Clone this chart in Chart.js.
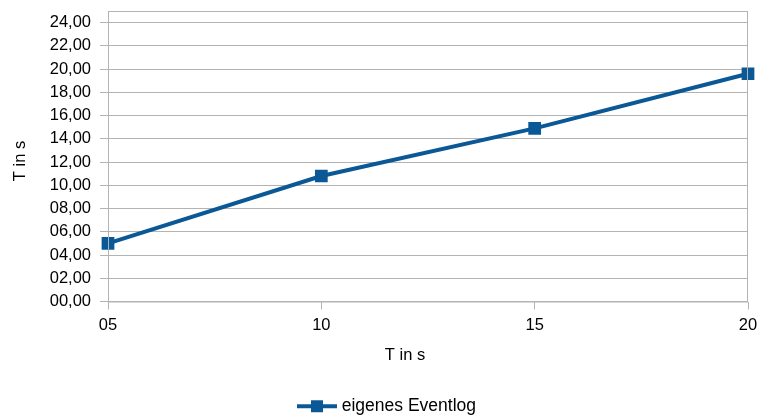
<!DOCTYPE html>
<html>
<head>
<meta charset="utf-8">
<script src="https://cdn.jsdelivr.net/npm/chart.js@4/dist/chart.umd.min.js"></script>
<style>
  html, body { margin: 0; padding: 0; background: #fff; }
  #wrap { width: 757px; height: 416px; }
</style>
</head>
<body>
<div id="wrap"><canvas id="chart" width="757" height="416"></canvas></div>
<script>
const categories = ["05", "10", "15", "20"];
const eventlogValues = [5.0, 10.8, 14.9, 19.6];
const seriesName = "eigenes Eventlog";
const xTitle = "T in s";
const yTitle = "T in s";

const blue = "#0a5896";
const gridGray = "#b3b3b3";
const FONT = "'Liberation Sans', Arial, sans-serif";

// legend symbol: line with square marker
function legendSymbol() {
  const c = document.createElement("canvas");
  c.width = 40; c.height = 14;
  const g = c.getContext("2d");
  g.strokeStyle = blue;
  g.lineWidth = 4;
  g.beginPath(); g.moveTo(0, 7); g.lineTo(40, 7); g.stroke();
  g.fillStyle = blue;
  g.fillRect(14, 1, 12, 12);
  return c;
}

// plot frame + axis titles (placed like the office chart)
const frame = {
  id: "frame",
  afterDraw(chart) {
    const a = chart.chartArea;
    const ctx = chart.ctx;
    ctx.save();
    ctx.strokeStyle = gridGray;
    ctx.lineWidth = 1;
    ctx.strokeRect(a.left + 0.5, a.top + 0.5, a.right - a.left - 1, a.bottom - a.top);

    ctx.fillStyle = "#000";
    ctx.font = "16.5px " + FONT;
    ctx.textAlign = "center";
    ctx.textBaseline = "middle";
    ctx.fillText(xTitle, (a.left + a.right) / 2 - 23, 355);
    ctx.translate(20, 161);
    ctx.rotate(-Math.PI / 2);
    ctx.fillText(yTitle, 0, 0);
    ctx.restore();
  }
};

const sym = legendSymbol();

new Chart(document.getElementById("chart"), {
  type: "line",
  data: {
    labels: categories,
    datasets: [{
      label: seriesName,
      data: eventlogValues,
      borderColor: blue,
      backgroundColor: blue,
      borderWidth: 4,
      pointStyle: "rect",
      pointRadius: 9,
      pointBorderWidth: 0,
      tension: 0
    }]
  },
  options: {
    responsive: false,
    animation: false,
    layout: { padding: { left: 29, right: 9, top: 11, bottom: -9 } },
    plugins: {
      tooltip: { enabled: false },
      legend: {
        position: "bottom",
        labels: {
          usePointStyle: true,
          pointStyleWidth: 32,
          color: "#000",
          font: { family: FONT, size: 17.5 },
          padding: 2,
          generateLabels(chart) {
            return [{
              text: seriesName,
              pointStyle: sym,
              fillStyle: blue,
              strokeStyle: blue,
              lineWidth: 0,
              datasetIndex: 0
            }];
          }
        }
      }
    },
    scales: {
      x: {
        offset: false,
        grid: { drawOnChartArea: false, drawTicks: true, tickLength: 8, color: gridGray },
        border: { display: false },
        ticks: { color: "#000", font: { family: FONT, size: 16.5 }, padding: 6, maxRotation: 0 },
        afterFit(s) { s.height = 94; s.paddingLeft = 0; s.paddingRight = 0; }
      },
      y: {
        min: 0,
        max: 25,
        grid: { color: gridGray, tickLength: 8 },
        border: { display: false },
        ticks: {
          stepSize: 2,
          includeBounds: false,
          color: "#000",
          font: { family: FONT, size: 16.5 },
          padding: 9,
          callback: v => v.toFixed(2).replace(".", ",").padStart(5, "0")
        },
        afterFit(s) { s.width = 79; s.paddingTop = 0; s.paddingBottom = 0; }
      }
    }
  },
  plugins: [frame]
});
</script>
</body>
</html>
